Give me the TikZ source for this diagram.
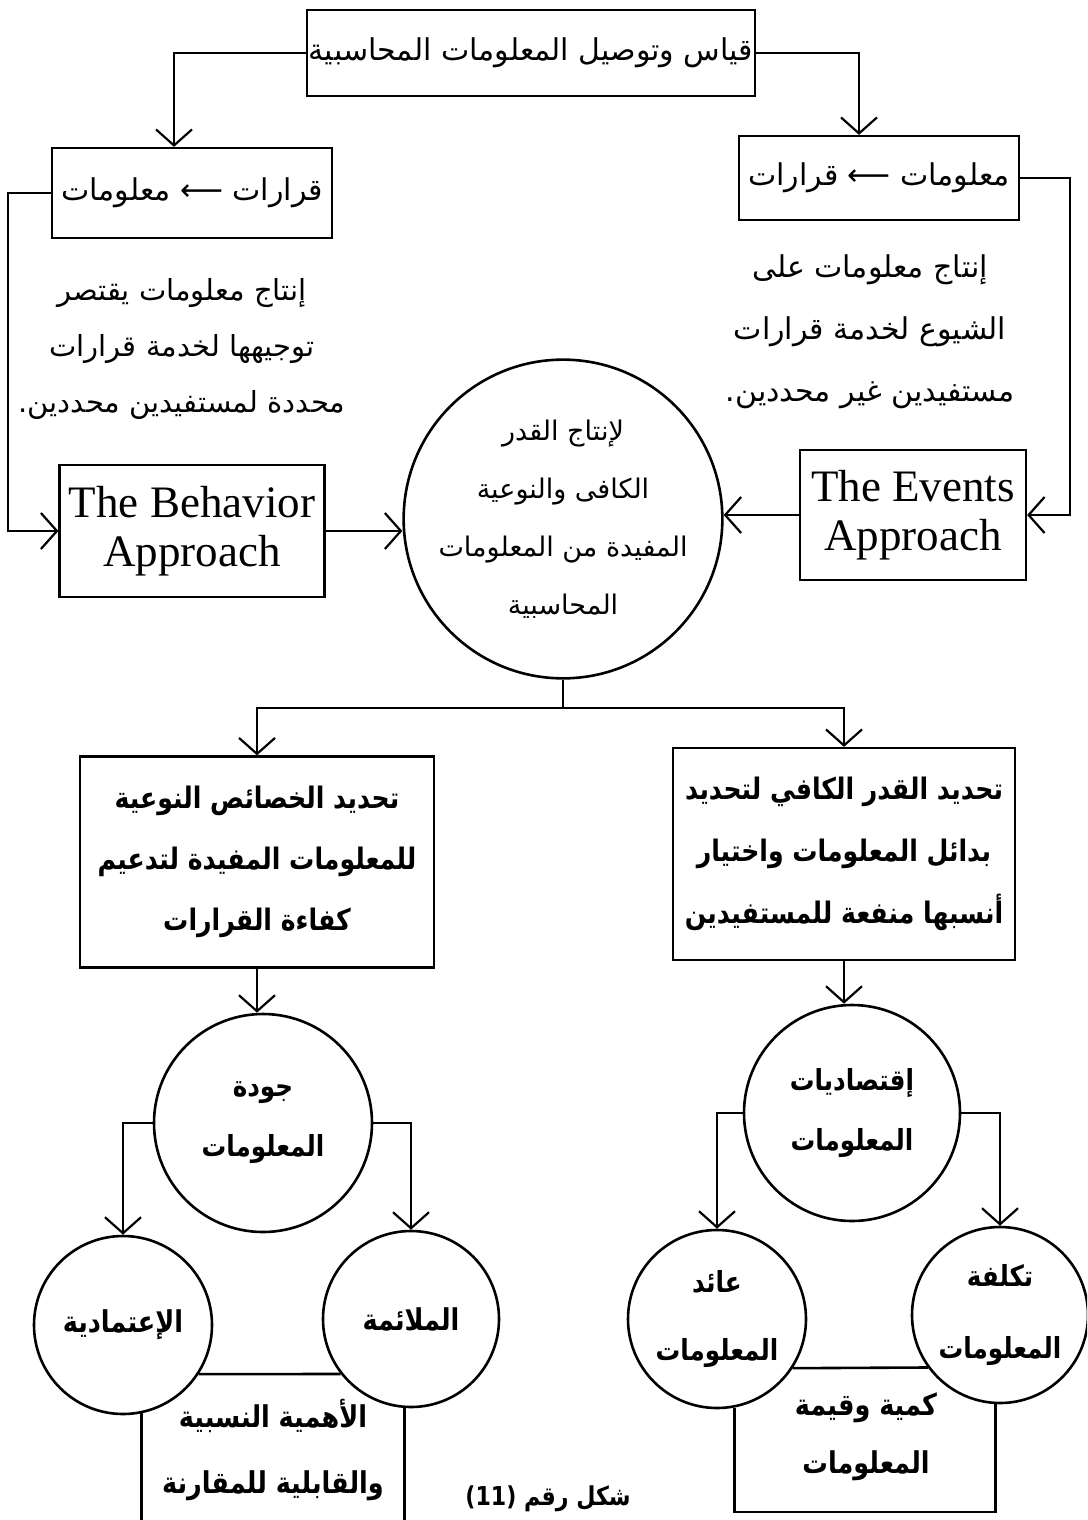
\documentclass[tikz,border=0pt]{standalone}
\usepackage{fontspec}
\usetikzlibrary{arrows.meta}
\newfontfamily\arabicfont[Script=Arabic]{DejaVu Sans}
\newfontfamily\arabicnarrow[Script=Arabic,FakeStretch=0.85]{DejaVu Sans}
\newfontfamily\latinfont{Liberation Serif}
\TeXXeTstate=1
\tikzset{>={Straight Barb[length=8pt,width=18pt]}}
\colorlet{ink}{black}
\tikzstyle{box}=[draw=ink,line width=1.1pt,inner sep=0pt]
\tikzstyle{disc}=[draw=ink,circle,line width=1.3pt,inner sep=0pt]
\tikzstyle{link}=[->,draw=ink,line width=1.1pt]
\tikzstyle{line}=[draw=ink,line width=1.3pt]
\tikzstyle{entext}=[font=\latinfont\fontsize{22.5}{24.5}\selectfont,align=center,text=ink]
\tikzset{artext/.style 2 args={font=\arabicfont\fontsize{#1}{#2}\selectfont,align=center,text=ink}}
\tikzset{arbold/.style 2 args={font=\arabicnarrow\bfseries\fontsize{#1}{#2}\selectfont,align=center,text=ink}}
\def\rtl#1{\beginR#1\endR}

\begin{document}
\begin{tikzpicture}[x=0.5pt,y=-0.5pt]
  \fill[white] (0,0) rectangle (1087,1520);
  \useasboundingbox (0,0) rectangle (1087,1520);
  \clip (0,0) rectangle (1087,1520);
  \coordinate (B) at (0,1530);
  \coordinate (BB) at (0,1512);

  % MEASUREMENT
  \node[box,artext={15}{28},minimum width=224pt,minimum height=43pt] (M) at (531,53)
    {\rtl{قياس وتوصيل المعلومات المحاسبية}};
  \node[box,artext={15}{28},minimum width=140pt,minimum height=45pt] (DL) at (192,193)
    {\rtl{قرارات ⟵ معلومات}};
  \node[box,artext={15}{28},minimum width=140pt,minimum height=42pt] (DR) at (879,178)
    {\rtl{معلومات ⟵ قرارات}};
  \draw[link] (M.west) -| ([xshift=-9pt]DL.north);
  \draw[link] (M.east) -| ([xshift=-10pt]DR.north);

  % TEXTS
  \node[artext={14.5}{28}] (TL) at (182,349)
    {\rtl{إنتاج معلومات يقتصر}\\\rtl{توجيهها لخدمة قرارات}\\\rtl{محددة لمستفيدين محددين\kern0pt.}};
  \node[artext={15}{31}] (TR) at (870,332)
    {\rtl{إنتاج معلومات على}\\\rtl{الشيوع لخدمة قرارات}\\\rtl{مستفيدين غير محددين\kern0pt.}};

  % APPROACHES
  \node[box,entext,minimum width=132.5pt,minimum height=66pt] (BA) at (192,531) {The Behavior\\Approach};
  \node[box,entext,minimum width=113pt,minimum height=65pt] (EA) at (913,515) {The Events\\Approach};
  \node[disc,artext={13.5}{29},minimum size=155pt] (C) at (563,519)
    {\rtl{لإنتاج القدر}\\\rtl{الكافى والنوعية}\\\rtl{المفيدة من المعلومات}\\\rtl{المحاسبية}};
  \draw[link] (DL.west) -- ++(-43,0) |- (BA.west);
  \draw[link] (DR.east) -- ++(50,0) |- (EA.east);
  \draw[link] (BA.east) -- (C.west |- BA.east);
  \draw[link] (EA.west) -- (C.east |- EA.west);

  % SPLIT
  \draw[line] (C.south) -- ++(0,28) coordinate (S);
  \node[box,arbold={14.8}{30.5},minimum width=177pt,minimum height=105.5pt] (QB) at (257,862)
    {\rtl{تحديد الخصائص النوعية}\\\rtl{للمعلومات المفيدة لتدعيم}\\\rtl{كفاءة القرارات}};
  \node[box,arbold={14.8}{31},minimum width=171pt,minimum height=106pt] (EB) at (844,854)
    {\rtl{تحديد القدر الكافي لتحديد}\\\rtl{بدائل المعلومات واختيار}\\\rtl{أنسبها منفعة للمستفيدين}};
  \draw[link] (S) -| (QB.north);
  \draw[link] (S) -| (EB.north);

  % QUALITY
  \node[disc,arbold={14.5}{30},minimum size=109pt] (Q) at (263,1123) {\rtl{جودة}\\\rtl{المعلومات}};
  \node[disc,arbold={15}{30},minimum size=89pt] (RL) at (123,1325) {\rtl{الإعتمادية}};
  \node[disc,arbold={15}{30},minimum size=88pt] (RV) at (411,1319) {\rtl{الملائمة}};
  \draw[link] (QB.south) -- (QB.south |- Q.north);
  \draw[link] (Q.west) -| (RL.north);
  \draw[link] (Q.east) -| (RV.north);
  \draw[line] (RL.-33) -- (RV.-142);
  \draw[line] (RL.-78) -- (RL.-78 |- B);
  \draw[line] (RV.-94) -- (RV.-94 |- B);
  \node[arbold={15}{33}] (NL) at (273,1450) {\rtl{الأهمية النسبية}\\\rtl{والقابلية للمقارنة}};

  % ECONOMICS
  \node[disc,arbold={14.5}{30},minimum size=108pt] (E) at (852,1113) {\rtl{إقتصاديات}\\\rtl{المعلومات}};
  \node[disc,arbold={14.5}{34},minimum size=89pt] (RT) at (717,1319) {\rtl{عائد}\\\rtl{المعلومات}};
  \node[disc,arbold={14.5}{36},minimum size=88pt] (CT) at (1000,1315) {\rtl{تكلفة}\\\rtl{المعلومات}};
  \draw[link] (EB.south) -- (EB.south |- E.north);
  \draw[link] (E.west) -| (RT.north);
  \draw[link] (E.east) -| (CT.north);
  \draw[line] (RT.-33) -- (CT.-144);
  \draw[line] (RT.-79) -- (RT.-79 |- BB) -- (CT.-93 |- BB) -- (CT.-93);
  \node[arbold={15}{29}] (NR) at (866,1437) {\rtl{كمية وقيمة}\\\rtl{المعلومات}};

  % CAPTION
  \node[arbold={13}{16},anchor=south] (F) at (548,1519) {\rtl{شكل رقم \beginL(11)\endL}};
\end{tikzpicture}
\end{document}
